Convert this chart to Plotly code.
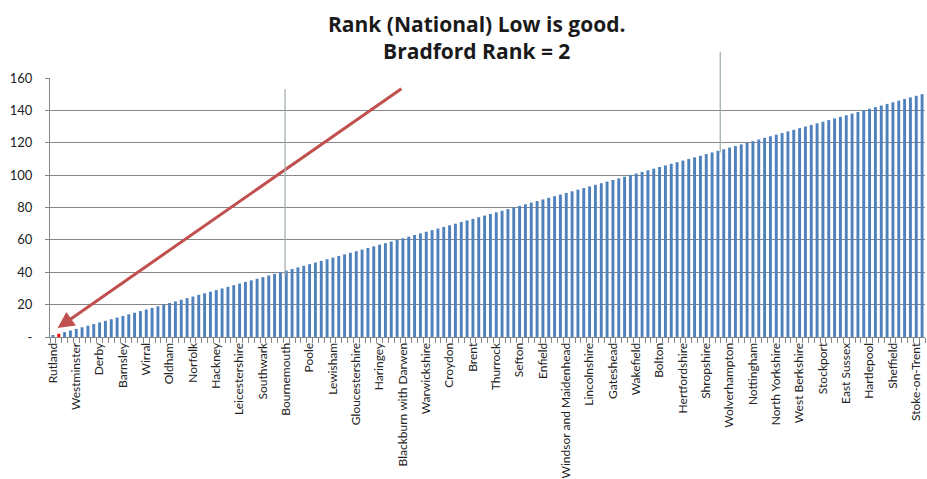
import plotly.graph_objects as go

# National rank for each of the 150 local authorities (sorted, low is good)
ranks = [
    1, 2, 3, 4, 5, 6, 7, 8, 9, 10,
    11, 12, 13, 14, 15, 16, 17, 18, 19, 20,
    21, 22, 23, 24, 25, 26, 27, 28, 29, 30,
    31, 32, 33, 34, 35, 36, 37, 38, 39, 40,
    41, 42, 43, 44, 45, 46, 47, 48, 49, 50,
    51, 52, 53, 54, 55, 56, 57, 58, 59, 60,
    61, 62, 63, 64, 65, 66, 67, 68, 69, 70,
    71, 72, 73, 74, 75, 76, 77, 78, 79, 80,
    81, 82, 83, 84, 85, 86, 87, 88, 89, 90,
    91, 92, 93, 94, 95, 96, 97, 98, 99, 100,
    101, 102, 103, 104, 105, 106, 107, 108, 109, 110,
    111, 112, 113, 114, 115, 116, 117, 118, 119, 120,
    121, 122, 123, 124, 125, 126, 127, 128, 129, 130,
    131, 132, 133, 134, 135, 136, 137, 138, 139, 140,
    141, 142, 143, 144, 145, 146, 147, 148, 149, 150,
]
positions = list(range(1, len(ranks) + 1))

# Every 4th authority is labelled on the axis
tick_labels = [
    "Rutland", "Westminster", "Derby", "Barnsley", "Wirral", "Oldham", "Norfolk",
    "Hackney", "Leicestershire", "Southwark", "Bournemouth", "Poole", "Lewisham",
    "Gloucestershire", "Haringey", "Blackburn with Darwen", "Warwickshire",
    "Croydon", "Brent", "Thurrock", "Sefton", "Enfield", "Windsor and Maidenhead",
    "Lincolnshire", "Gateshead", "Wakefield", "Bolton", "Hertfordshire",
    "Shropshire", "Wolverhampton", "Nottingham", "North Yorkshire",
    "West Berkshire", "Stockport", "East Sussex", "Hartlepool", "Sheffield",
    "Stoke-on-Trent",
]
tick_positions = positions[::4]

bradford_rank = 2
title_lines = ["Rank (National) Low is good.", "Bradford Rank = 2"]
y_ticks = [0, 20, 40, 60, 80, 100, 120, 140, 160]
y_tick_text = ["-", "20", "40", "60", "80", "100", "120", "140", "160"]

bar_colors = ["#FF0000" if r == bradford_rank else "#4F81BD" for r in ranks]

FONT = "Lato, 'Open Sans', sans-serif"
TITLE_FONT = "'Open Sans', Lato, sans-serif"

fig = go.Figure()
fig.add_trace(go.Bar(
    x=positions, y=ranks,
    marker=dict(color=bar_colors, line=dict(width=0)),
    width=0.5,
    hoverinfo="x+y",
))

# red arrow pointing at Bradford
fig.add_annotation(
    x=1.8, y=5.5, xref="x", yref="y",
    ax=61, ay=154, axref="x", ayref="y",
    text="", showarrow=True,
    arrowhead=2, arrowsize=1.1, arrowwidth=3, arrowcolor="#C0504D",
    standoff=0,
)

# thin vertical marker lines
for xv, y0, y1 in [(40.8, 38, 154), (115.4, 114, 177)]:
    fig.add_annotation(
        x=xv, y=y0, xref="x", yref="y",
        ax=xv, ay=y1, axref="x", ayref="y",
        text="", showarrow=True, arrowhead=0, arrowwidth=1.3,
        arrowcolor="#A3B3AD", standoff=0,
    )

# two-line bold title
fig.add_annotation(
    text="<b>" + "<br>".join(title_lines) + "</b>",
    x=0.4869, y=1.1564, xref="paper", yref="paper",
    xanchor="center", yanchor="middle", showarrow=False, align="center",
    font=dict(family=TITLE_FONT, size=21, color="#1a1a1a"),
)

fig.update_layout(
    width=927, height=479,
    margin=dict(l=50, r=2, t=78, b=142),
    paper_bgcolor="white", plot_bgcolor="white",
    showlegend=False,
    bargap=0.5,
    font=dict(family=FONT, size=13, color="#222222"),
)

fig.update_xaxes(
    range=[0.5, len(ranks) + 0.5],
    automargin=False,
    tickmode="array", tickvals=tick_positions, ticktext=tick_labels,
    tickangle=-90, ticks="",
    tickfont=dict(family=FONT, size=12, color="#222222"),
    showgrid=False, zeroline=False,
    showline=True, linecolor="#868686", linewidth=1,
    minor=dict(tickmode="linear", tick0=0.5, dtick=1, ticks="outside",
               ticklen=5, tickcolor="#868686", tickwidth=1, showgrid=False),
)

fig.update_yaxes(
    range=[0, 160],
    automargin=False,
    tickmode="array", tickvals=y_ticks, ticktext=y_tick_text,
    ticks="outside", ticklen=4, tickcolor="#868686",
    ticklabelstandoff=10,
    tickfont=dict(family=FONT, size=13, color="#222222"),
    showgrid=True, gridcolor="#868686", gridwidth=1,
    zeroline=False,
    showline=True, linecolor="#868686", linewidth=1,
)

fig.write_html("out.html")
